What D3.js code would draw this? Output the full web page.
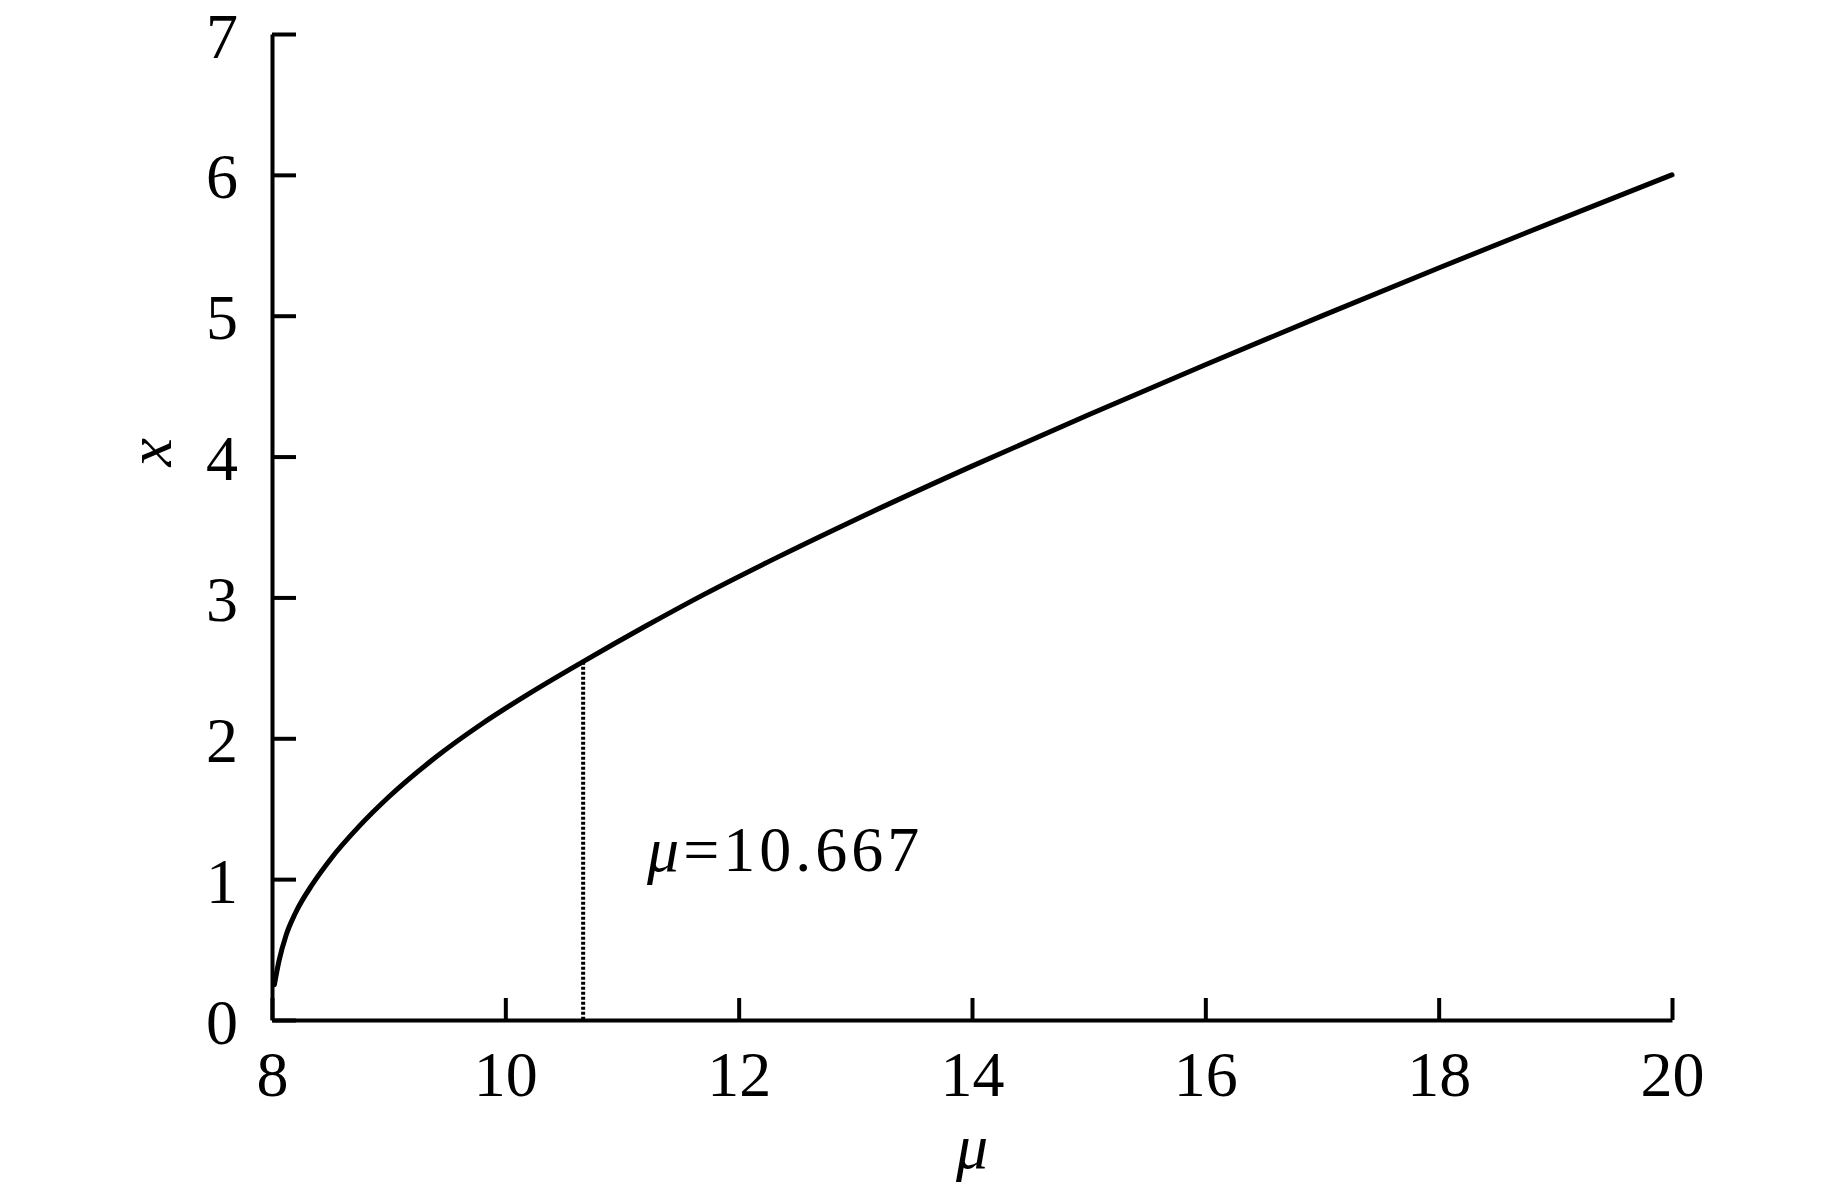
<!DOCTYPE html>
<html>
<head>
<meta charset="utf-8">
<script src="https://cdn.jsdelivr.net/npm/d3@7"></script>
<style>
  body { margin: 0; background: #fff; }
  svg { display: block; }
  .axis text { font-family: "Liberation Serif", "Times New Roman", Times, serif; font-size: 64px; fill: #000; }
  .axis path, .axis line { stroke: #000; }
</style>
</head>
<body>
<div id="chart"></div>
<script>
// values
const muValues = [8.02, 8.06, 8.12, 8.2, 8.35, 8.5, 8.75, 9.0, 9.4, 9.8, 10.2, 10.667, 11.2, 11.7, 12.3, 13.0, 14.0, 15.0, 16.0, 17.0, 18.0, 19.0, 20.0];
const xValues = [0.25, 0.42, 0.6, 0.758, 0.968, 1.14, 1.378, 1.583, 1.863, 2.103, 2.315, 2.544, 2.795, 3.02, 3.272, 3.552, 3.932, 4.297, 4.652, 4.999, 5.339, 5.672, 6.0];
const muTicks = [8, 10, 12, 14, 16, 18, 20];
const xTicks = [0, 1, 2, 3, 4, 5, 6, 7];
const markMu = 10.667;
const markX = 2.544;
const markLabel = "=10.667";

const width = 1843;
const height = 1189;
const margin = { left: 272, right: 171, top: 34, bottom: 169 };

const svg = d3.select("#chart").append("svg")
    .attr("width", width)
    .attr("height", height);

const xScale = d3.scaleLinear()
    .domain([8, 20])
    .range([margin.left, width - margin.right]);

const yScale = d3.scaleLinear()
    .domain([0, 7])
    .range([height - margin.bottom, margin.top]);

const points = muValues.map((m, i) => ({ mu: m, x: xValues[i] }));

// dotted marker line
svg.append("line")
    .attr("x1", xScale(markMu))
    .attr("x2", xScale(markMu))
    .attr("y1", yScale(markX))
    .attr("y2", yScale(0))
    .attr("stroke", "#000")
    .attr("stroke-width", 4)
    .attr("stroke-dasharray", "3,2");

const line = d3.line()
    .x(d => xScale(d.mu))
    .y(d => yScale(d.x))
    .curve(d3.curveMonotoneX);

svg.append("path")
    .datum(points)
    .attr("fill", "none")
    .attr("stroke", "#000")
    .attr("stroke-width", 5)
    .attr("stroke-linecap", "round")
    .attr("d", line);

const xAxis = d3.axisBottom(xScale)
    .tickValues(muTicks)
    .tickFormat(d3.format("d"))
    .tickSizeInner(-22)
    .tickSizeOuter(0)
    .tickPadding(31);

const gx = svg.append("g")
    .attr("class", "axis")
    .attr("transform", `translate(0, ${yScale(0)})`)
    .call(xAxis);
gx.select(".domain").attr("stroke-width", 4);
gx.selectAll(".tick line").attr("stroke-width", 4);

const yAxis = d3.axisLeft(yScale)
    .tickValues(xTicks)
    .tickFormat(d3.format("d"))
    .tickSizeInner(-24)
    .tickSizeOuter(0)
    .tickPadding(34);

const gy = svg.append("g")
    .attr("class", "axis")
    .attr("transform", `translate(${xScale(8)}, 0)`)
    .call(yAxis);
gy.select(".domain").attr("stroke-width", 4);
gy.selectAll(".tick line").attr("stroke-width", 4);
gy.selectAll(".tick text").attr("dy", "0.36em");

// axis titles
svg.append("text")
    .attr("x", (xScale(8) + xScale(20)) / 2)
    .attr("y", 1168)
    .attr("text-anchor", "middle")
    .attr("font-family", "Liberation Serif, Times New Roman, serif")
    .attr("font-style", "italic")
    .attr("font-size", 64)
    .text("μ");

svg.append("text")
    .attr("transform", `translate(171, ${yScale(4.03)}) rotate(-90)`)
    .attr("text-anchor", "middle")
    .attr("font-family", "Liberation Serif, Times New Roman, serif")
    .attr("font-style", "italic")
    .attr("font-size", 64)
    .text("x");

// annotation
const note = svg.append("text")
    .attr("x", 647)
    .attr("y", 871)
    .attr("font-family", "Liberation Serif, Times New Roman, serif")
    .attr("font-size", 64)
    .attr("letter-spacing", 4);
note.append("tspan").attr("font-style", "italic").text("μ");
note.append("tspan").text(markLabel);
</script>
</body>
</html>
